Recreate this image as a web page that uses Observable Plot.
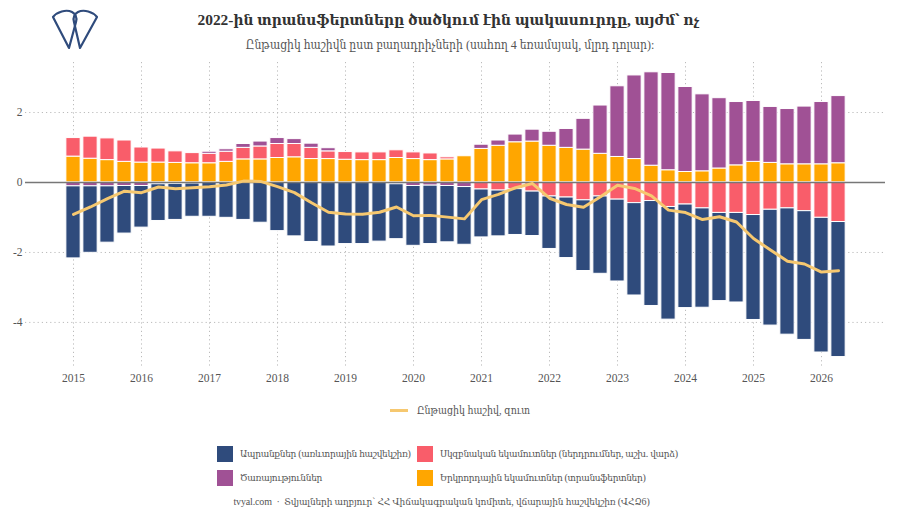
<!DOCTYPE html>
<html>
<head>
<meta charset="utf-8">
<script src="https://cdn.jsdelivr.net/npm/d3@7"></script>
<script src="https://cdn.jsdelivr.net/npm/@observablehq/plot@0.6"></script>
<style>
  body { margin: 0; background: #fff; font-family: "Liberation Serif", "DejaVu Serif Condensed", "DejaVu Serif", serif; font-stretch: condensed; }
  #wrap { position: relative; width: 900px; height: 525px; overflow: hidden; }
  #logo { position: absolute; left: 0; top: 0; }
  #title { position: absolute; top: 11px; left: 0; width: 900px; text-align: center; font-size: 15.4px; font-weight: bold; color: #333; padding-right: 3px; box-sizing: border-box; }
  #subtitle { position: absolute; top: 38px; left: 0; width: 900px; text-align: center; font-size: 12px; color: #555; }
  #chart { position: absolute; top: 58px; left: 0; }
  #lineleg { position: absolute; top: 404px; left: 0; width: 900px; text-align: center; font-size: 10.5px; color: #555; padding-left: 20px; box-sizing: border-box; }
  #lineleg .sw { display: inline-block; width: 18px; height: 3px; background: #f6c870; vertical-align: middle; margin-right: 9px; position: relative; top: -1px; }
  .leg { position: absolute; font-size: 10px; letter-spacing: -0.3px; color: #555; white-space: nowrap; line-height: 16px; }
  .leg .box { display: inline-block; width: 16px; height: 16px; vertical-align: top; margin-right: 7px; }
  #caption { position: absolute; top: 496px; left: 0; width: 900px; text-align: center; font-size: 10px; letter-spacing: -0.15px; color: #555; padding-right: 17px; box-sizing: border-box; }
</style>
</head>
<body>
<div id="wrap">
  <svg id="logo" width="120" height="60">
    <g fill="none" stroke="#2f4b7c" stroke-width="2.2" stroke-linejoin="round">
      <path d="M69,48 L53,17 C57,12 66,9 72,12 C76,14 77,18 76,22 Z"/>
      <path d="M80,48 L97,17 C93,12 84,9 78,12 C74,14 73,18 74,22 Z"/>
    </g>
  </svg>
  <div id="title">2022-ին տրանսֆերտները ծածկում էին պակասուրդը, այժմ՝ ոչ</div>
  <div id="subtitle">Ընթացիկ հաշիվն ըստ բաղադրիչների (սահող 4 եռամսյակ, մլրդ դոլար):</div>
  <div id="chart"></div>
  <div id="lineleg"><span class="sw"></span>Ընթացիկ հաշիվ, զուտ</div>
  <div id="legend"></div>
  <div id="caption">tvyal.com &nbsp;·&nbsp; Տվյալների աղբյուր՝ ՀՀ Վիճակագրական կոմիտե, վճարային հաշվեկշիռ (ՎՀՁ6)</div>
</div>
<script>
const quarters = [
  "2015Q1","2015Q2","2015Q3","2015Q4","2016Q1","2016Q2","2016Q3","2016Q4",
  "2017Q1","2017Q2","2017Q3","2017Q4","2018Q1","2018Q2","2018Q3","2018Q4",
  "2019Q1","2019Q2","2019Q3","2019Q4","2020Q1","2020Q2","2020Q3","2020Q4",
  "2021Q1","2021Q2","2021Q3","2021Q4","2022Q1","2022Q2","2022Q3","2022Q4",
  "2023Q1","2023Q2","2023Q3","2023Q4","2024Q1","2024Q2","2024Q3","2024Q4",
  "2025Q1","2025Q2","2025Q3","2025Q4","2026Q1","2026Q2"
];

// Secondary income (transfers)
const secondaryIncome = [
  0.74,0.68,0.64,0.59,0.57,0.57,0.56,0.55,
  0.55,0.59,0.66,0.66,0.70,0.72,0.67,0.67,
  0.65,0.64,0.64,0.70,0.67,0.64,0.66,0.75,
  0.96,1.05,1.15,1.17,1.05,0.99,0.94,0.82,
  0.73,0.67,0.48,0.35,0.30,0.32,0.40,0.49,
  0.59,0.56,0.52,0.52,0.52,0.55
];
// Primary income
const primaryIncome = [
  0.53,0.63,0.62,0.61,0.43,0.40,0.33,0.29,
  0.27,0.29,0.33,0.37,0.40,0.38,0.32,0.22,
  0.22,0.22,0.22,0.22,0.19,0.19,0.06,0.00,
  -0.20,-0.23,-0.19,-0.26,-0.40,-0.43,-0.51,-0.40,
  -0.49,-0.59,-0.53,-0.70,-0.63,-0.74,-0.87,-0.87,
  -0.93,-0.78,-0.74,-0.82,-1.01,-1.13
];
// Services
const services = [
  -0.11,-0.11,-0.11,-0.10,-0.10,-0.05,-0.04,-0.03,
  0.06,0.07,0.11,0.14,0.17,0.14,0.12,0.09,
  0.00,0.00,0.00,-0.05,-0.10,-0.09,-0.10,-0.13,
  0.12,0.15,0.22,0.34,0.40,0.54,0.88,1.38,
  2.02,2.39,2.67,2.78,2.43,2.20,2.01,1.81,
  1.74,1.60,1.58,1.65,1.78,1.92
];
// Goods (trade balance)
const goods = [
  -2.06,-1.90,-1.61,-1.36,-1.19,-1.05,-1.03,-0.95,
  -0.98,-1.01,-1.07,-1.15,-1.39,-1.54,-1.70,-1.83,
  -1.76,-1.76,-1.69,-1.57,-1.71,-1.67,-1.61,-1.65,
  -1.37,-1.31,-1.31,-1.27,-1.50,-1.73,-2.02,-2.21,
  -2.34,-2.64,-3.00,-3.22,-2.96,-2.84,-2.52,-2.56,
  -3.00,-3.31,-3.61,-3.68,-3.85,-3.86
];
// Net current account
const currentAccount = [
  -0.91,-0.70,-0.46,-0.25,-0.29,-0.13,-0.18,-0.15,
  -0.12,-0.07,0.04,0.03,-0.12,-0.29,-0.58,-0.85,
  -0.90,-0.91,-0.85,-0.70,-0.95,-0.94,-0.99,-1.04,
  -0.49,-0.34,-0.15,-0.03,-0.45,-0.63,-0.71,-0.41,
  -0.08,-0.17,-0.38,-0.79,-0.86,-1.06,-0.98,-1.13,
  -1.60,-1.93,-2.25,-2.33,-2.56,-2.52
];

const seriesNames = [
  "Ապրանքներ (առևտրային հաշվեկշիռ)",
  "Սկզբնական եկամուտներ (ներդրումներ, աշխ. վարձ)",
  "Ծառայություններ",
  "Երկրորդային եկամուտներ (տրանսֆերտներ)"
];
const seriesColors = ["#2f4b7c", "#f95d6a", "#a05195", "#ffa600"];
const yearTicks = [2015,2016,2017,2018,2019,2020,2021,2022,2023,2024,2025,2026];
const yTicks = [-4,-2,0,2];

const tOf = q => +q.slice(0,4) + (+q.slice(5) - 1) / 4;

// stacking order: secondary, primary, services, goods
const stackOrder = [
  [seriesNames[3], secondaryIncome],
  [seriesNames[1], primaryIncome],
  [seriesNames[2], services],
  [seriesNames[0], goods]
];
const rows = [];
quarters.forEach((q, i) => {
  stackOrder.forEach(([name, arr]) => rows.push({t: tOf(q), series: name, value: arr[i]}));
});
const lineRows = quarters.map((q, i) => ({t: tOf(q), value: currentAccount[i]}));

const half = 0.105;
const grid = {stroke: "#bbb", strokeOpacity: 1, strokeDasharray: "1.2,3"};
const plot = Plot.plot({
  width: 900,
  height: 340,
  marginLeft: 25,
  marginRight: 15,
  marginTop: 4,
  marginBottom: 32,
  x: {domain: [2014.294, 2026.941], label: null},
  y: {domain: [-5.26, 3.43], label: null},
  color: {domain: seriesNames, range: seriesColors},
  style: {fontFamily: '"Liberation Serif", "DejaVu Serif", serif', fontSize: "11.5px", color: "#555", background: "#fff"},
  marks: [
    Plot.gridX(yearTicks, grid),
    Plot.gridY(yTicks.filter(v => v !== 0), grid),
    Plot.rectY(rows, {x1: d => d.t - half, x2: d => d.t + half, y: "value", fill: "series", stroke: "white", strokeWidth: 1}),
    Plot.ruleY([0], {stroke: "#777", strokeWidth: 1.5}),
    Plot.line(lineRows, {x: "t", y: "value", stroke: "#f6c870", strokeWidth: 3, strokeLinejoin: "round", strokeLinecap: "round"}),
    Plot.axisX(yearTicks, {tickSize: 0, tickPadding: 7, tickFormat: d => String(d), label: null}),
    Plot.axisY(yTicks, {tickSize: 0, tickPadding: 3, tickFormat: d => String(d), label: null})
  ]
});
document.getElementById("chart").appendChild(plot);

// legend (2 columns)
const legend = document.getElementById("legend");
const legPos = [[217, 446], [417, 446], [217, 470], [417, 470]];
seriesNames.forEach((name, i) => {
  const el = document.createElement("div");
  el.className = "leg";
  el.style.left = legPos[i][0] + "px";
  el.style.top = legPos[i][1] + "px";
  el.innerHTML = `<span class="box" style="background:${seriesColors[i]}"></span>${name}`;
  legend.appendChild(el);
});
</script>
</body>
</html>
